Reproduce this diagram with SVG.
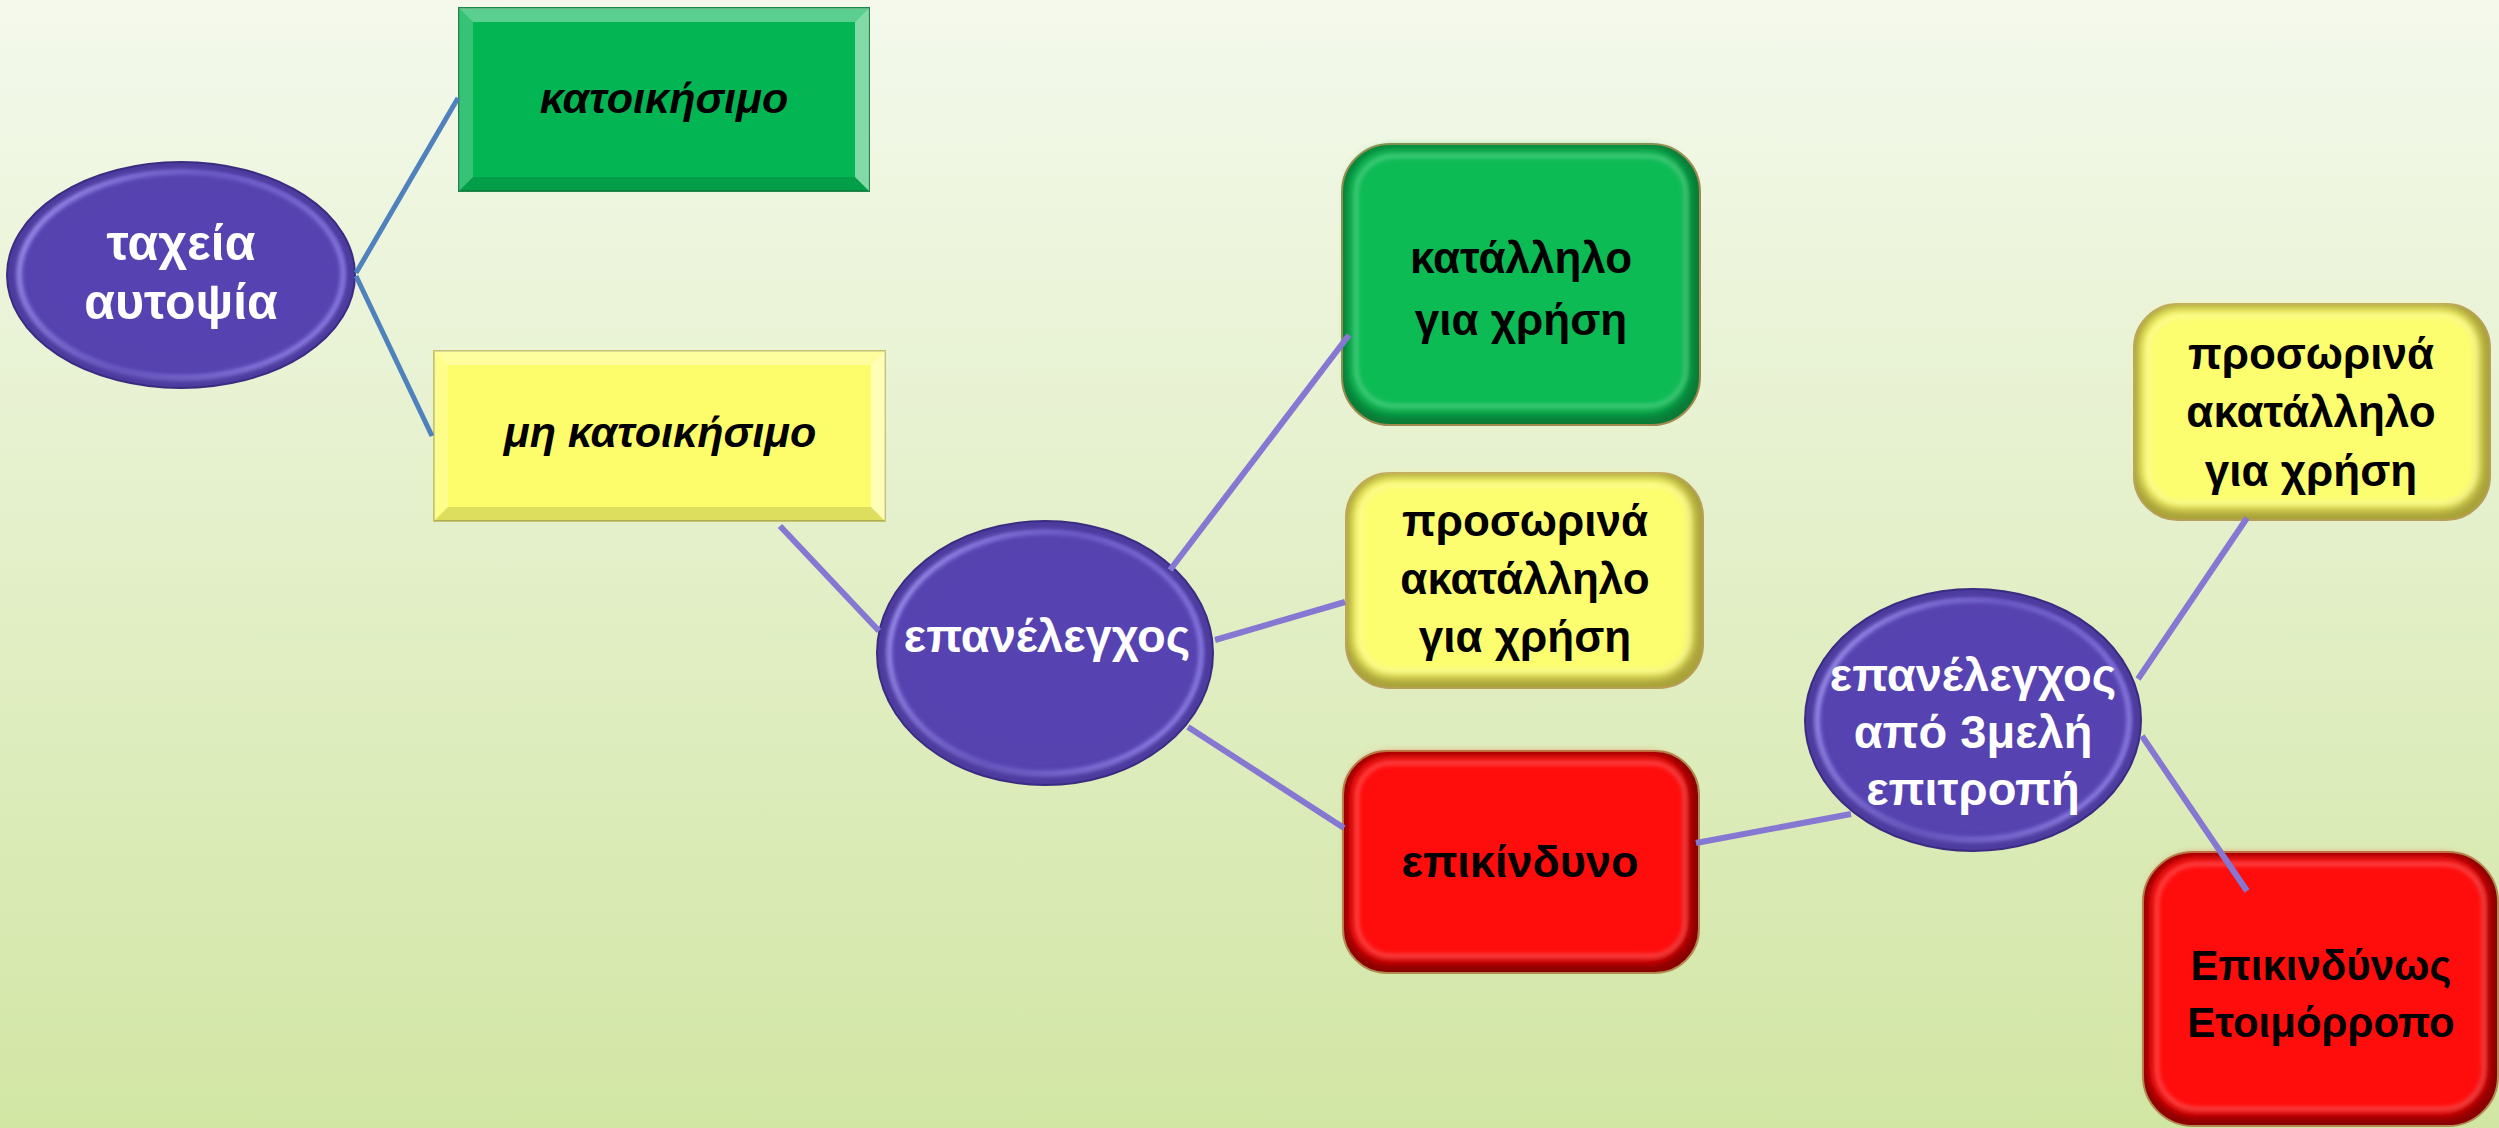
<svg xmlns="http://www.w3.org/2000/svg" width="2499" height="1128" viewBox="0 0 2499 1128">
<defs>
<linearGradient id="bg" x1="0" y1="0" x2="0" y2="1">
<stop offset="0" stop-color="#f4f9ec"/>
<stop offset="1" stop-color="#d2e6a4"/>
</linearGradient>
<linearGradient id="ring" x1="0" y1="0" x2="1" y2="0.3">
<stop offset="0" stop-color="#b3a9ff" stop-opacity="0.95"/>
<stop offset="0.55" stop-color="#8e80e6" stop-opacity="0.5"/>
<stop offset="1" stop-color="#9d90f2" stop-opacity="0.8"/>
</linearGradient>
<filter id="blur" x="-10%" y="-10%" width="120%" height="120%"><feGaussianBlur stdDeviation="5"/></filter>
<filter id="soft" x="-10%" y="-10%" width="120%" height="120%"><feGaussianBlur stdDeviation="2"/></filter>
<style>
.conA{stroke:#4f81bd;stroke-width:5;fill:none}
.conB{stroke:#8577d2;stroke-width:6;fill:none}
.ellO{fill:#4d3b9f;stroke:#3a2c80;stroke-width:2}
.ellI{fill:#5643b0}
.ellR{fill:none;stroke:url(#ring);stroke-width:5}
.wt{font-family:"Liberation Sans",Arial,sans-serif;font-weight:bold;fill:#ffffff;text-anchor:middle}
.bt{font-family:"Liberation Sans",Arial,sans-serif;font-weight:bold;fill:#000000;text-anchor:middle}
.it{font-style:italic}
.lt{fill:#ffffff;opacity:0.35}
.dk{fill:#000000;opacity:0.12}
.rimG{fill:#0a7a36;stroke:#a08a50;stroke-width:2}
.rimY{fill:#a8a238;stroke:#b89e58;stroke-width:2}
.rimR{fill:#8a0000;stroke:#b08c50;stroke-width:2}
.hl{fill:none;stroke:#ffffff;stroke-opacity:0.25;stroke-width:4}
</style>
</defs>
<rect x="0" y="0" width="2499" height="1128" fill="url(#bg)"/>

<g id="n-taxeia">
<ellipse class="ellO" cx="181" cy="275" rx="174" ry="113"/>
<ellipse class="ellI" cx="183" cy="273" rx="164" ry="104"/>
<ellipse class="ellR" cx="181" cy="275" rx="162" ry="103" filter="url(#soft)"/>
<ellipse class="ellI" cx="186" cy="271" rx="150" ry="92" filter="url(#blur)"/>
<text class="wt" x="181" y="260" font-size="50">ταχεία</text>
<text class="wt" x="181" y="319" font-size="50">αυτοψία</text>
</g>

<g id="n-katoikisimo">
<rect x="459" y="8" width="410" height="183" fill="#04b553" stroke="#1a8a48" stroke-width="2"/>
<polygon class="lt" points="459,8 869,8 855,22 473,22"/>
<polygon class="lt" points="869,8 869,191 855,177 855,22" style="opacity:0.5"/>
<polygon class="lt" points="459,8 459,191 473,177 473,22" style="opacity:0.2"/>
<polygon class="dk" points="459,191 869,191 855,177 473,177"/>
<text class="bt it" x="664" y="113" font-size="43">κατοικήσιμο</text>
</g>

<g id="n-mi-katoikisimo">
<rect x="434" y="351" width="451" height="170" fill="#fdfd6c" stroke="#c8c468" stroke-width="2"/>
<polygon class="lt" points="434,351 885,351 871,365 448,365"/>
<polygon class="lt" points="885,351 885,521 871,507 871,365" style="opacity:0.5"/>
<polygon class="lt" points="434,351 434,521 448,507 448,365" style="opacity:0.2"/>
<polygon class="dk" points="434,521 885,521 871,507 448,507"/>
<text class="bt it" x="660" y="447" font-size="43">μη κατοικήσιμο</text>
</g>

<g id="n-epanelegxos">
<ellipse class="ellO" cx="1045" cy="653" rx="168" ry="132"/>
<ellipse class="ellI" cx="1047" cy="651" rx="158" ry="122"/>
<ellipse class="ellR" cx="1045" cy="653" rx="156" ry="121" filter="url(#soft)"/>
<ellipse class="ellI" cx="1050" cy="648" rx="144" ry="108" filter="url(#blur)"/>
<text class="wt" x="1047" y="652" font-size="47">επανέλεγχος</text>
</g>

<g id="n-katallilo">
<rect class="rimG" x="1342" y="144" width="358" height="281" rx="48"/>
<rect x="1348" y="148" width="342" height="266" rx="44" fill="#07bb55" filter="url(#blur)"/>
<rect class="hl" x="1356" y="156" width="330" height="250" rx="38" filter="url(#soft)"/>
<text class="bt" x="1521" y="273" font-size="44">κατάλληλο</text>
<text class="bt" x="1521" y="335" font-size="44">για χρήση</text>
</g>

<g id="n-prosorina1">
<rect class="rimY" x="1346" y="473" width="357" height="215" rx="44"/>
<rect x="1352" y="477" width="341" height="200" rx="40" fill="#fdfd70" filter="url(#blur)"/>
<rect class="hl" x="1360" y="485" width="329" height="186" rx="34" filter="url(#soft)"/>
<text class="bt" x="1525" y="536" font-size="44">προσωρινά</text>
<text class="bt" x="1525" y="594" font-size="44">ακατάλληλο</text>
<text class="bt" x="1525" y="652" font-size="44">για χρήση</text>
</g>

<g id="n-epikindyno">
<rect class="rimR" x="1343" y="751" width="356" height="222" rx="44"/>
<rect x="1349" y="755" width="340" height="207" rx="40" fill="#ff0707" filter="url(#blur)"/>
<rect class="hl" x="1357" y="763" width="328" height="193" rx="34" filter="url(#soft)"/>
<text class="bt" x="1520" y="877" font-size="45">επικίνδυνο</text>
</g>

<g id="n-epitropi">
<ellipse class="ellO" cx="1973" cy="720" rx="168" ry="131"/>
<ellipse class="ellI" cx="1975" cy="718" rx="158" ry="121"/>
<ellipse class="ellR" cx="1973" cy="720" rx="156" ry="120" filter="url(#soft)"/>
<ellipse class="ellI" cx="1978" cy="715" rx="144" ry="107" filter="url(#blur)"/>
<text class="wt" x="1973" y="691" font-size="47">επανέλεγχος</text>
<text class="wt" x="1973" y="748" font-size="47">από 3μελή</text>
<text class="wt" x="1973" y="805" font-size="47">επιτροπή</text>
</g>

<g id="n-prosorina2">
<rect class="rimY" x="2134" y="304" width="356" height="216" rx="44"/>
<rect x="2140" y="308" width="340" height="201" rx="40" fill="#fdfd70" filter="url(#blur)"/>
<rect class="hl" x="2148" y="316" width="328" height="187" rx="34" filter="url(#soft)"/>
<text class="bt" x="2311" y="369" font-size="44">προσωρινά</text>
<text class="bt" x="2311" y="427" font-size="44">ακατάλληλο</text>
<text class="bt" x="2311" y="486" font-size="44">για χρήση</text>
</g>

<g id="n-etoimorropo">
<rect class="rimR" x="2143" y="852" width="355" height="274" rx="50"/>
<rect x="2149" y="856" width="339" height="259" rx="46" fill="#ff0707" filter="url(#blur)"/>
<rect class="hl" x="2157" y="864" width="327" height="245" rx="40" filter="url(#soft)"/>
<text class="bt" x="2321" y="980" font-size="42">Επικινδύνως</text>
<text class="bt" x="2321" y="1037" font-size="42">Ετοιμόρροπο</text>
</g>

<g id="connectors">
<line class="conA" x1="356" y1="273" x2="458" y2="98"/>
<line class="conA" x1="356" y1="276" x2="432" y2="436"/>
<line class="conB" x1="780" y1="526" x2="879" y2="631"/>
<line class="conB" x1="1170" y1="570" x2="1349" y2="335"/>
<line class="conB" x1="1215" y1="640" x2="1345" y2="602"/>
<line class="conB" x1="1188" y1="727" x2="1344" y2="828"/>
<line class="conB" x1="1696" y1="843" x2="1851" y2="814"/>
<line class="conB" x1="2138" y1="679" x2="2247" y2="518"/>
<line class="conB" x1="2142" y1="736" x2="2247" y2="891"/>
</g>
</svg>
